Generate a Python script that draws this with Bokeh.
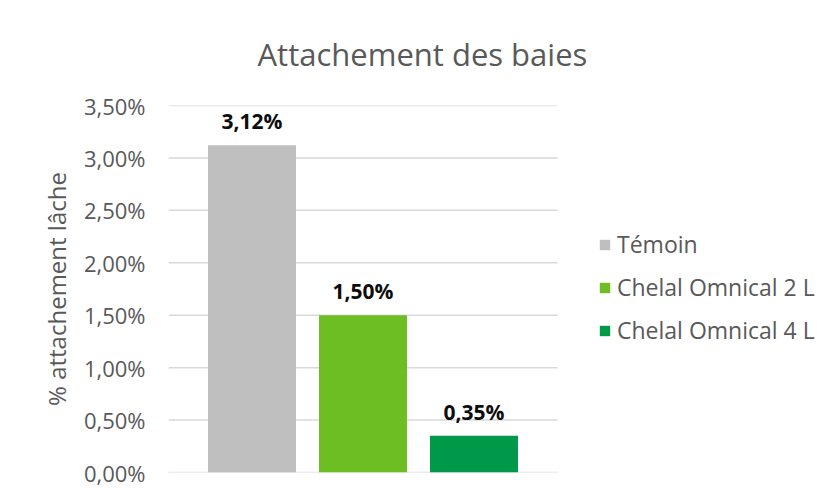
from bokeh.plotting import figure
from bokeh.models import ColumnDataSource, FixedTicker, CustomJSTickFormatter, LabelSet, Legend, LegendItem, Range1d
from bokeh.core.properties import value
from bokeh.embed import file_html
from bokeh.resources import INLINE

categories = ["Témoin", "Chelal Omnical 2 L", "Chelal Omnical 4 L"]
values = [3.12, 1.50, 0.35]
colors = ["#BFBFBF", "#6CBE23", "#00994A"]
y_ticks = [0.0, 0.5, 1.0, 1.5, 2.0, 2.5, 3.0, 3.5]

labels = [f"{v:.2f}".replace(".", ",") + "%" for v in values]
xpos = list(range(len(categories)))
src = ColumnDataSource(dict(x=xpos, cat=categories, val=values, col=colors, lab=labels))

FONT = "Open Sans"
W, H = 819, 487
LEFT, RIGHT, TOP, BOTTOM = 168, 4, 105, 15
px_per_bar = 111.0          # pixel pitch between bar centres
half_span = 389 / 2 / px_per_bar   # half-width of gridded area in bar units
mid = (len(categories) - 1) / 2
x_start = mid - half_span
x_end = x_start + (W - LEFT - RIGHT) / px_per_bar

p = figure(x_range=Range1d(x_start, x_end), y_range=Range1d(0, 3.5), width=W, height=H,
           output_backend="svg", toolbar_location=None,
           min_border_left=LEFT, min_border_right=RIGHT, min_border_top=TOP, min_border_bottom=BOTTOM)
p.outline_line_color = None
p.title.text = "Attachement des baies"
p.title.text_font = FONT
p.title.text_font_size = "31px"
p.title.text_font_style = "normal"
p.title.text_color = "#595959"
p.title.align = "left"
p.title.offset = 89
p.title.standoff = 61

# horizontal gridlines spanning only the plotted area
n = len(y_ticks)
p.segment(x0=[mid - half_span] * n, x1=[mid + half_span] * n,
          y0=y_ticks, y1=y_ticks, line_color="#D9D9D9", line_width=1.5)

r = p.vbar(x="x", top="val", width=88 / px_per_bar, fill_color="col", line_color=None, source=src)

p.xaxis.visible = False
p.xgrid.grid_line_color = None
p.ygrid.grid_line_color = None
p.yaxis.ticker = FixedTicker(ticks=y_ticks)
p.yaxis.formatter = CustomJSTickFormatter(code="return tick.toFixed(2).replace('.', ',') + '%';")
p.yaxis.axis_line_color = None
p.yaxis.major_tick_line_color = None
p.yaxis.minor_tick_line_color = None
p.yaxis.major_label_standoff = 17
p.yaxis.major_label_text_font = FONT
p.yaxis.major_label_text_font_size = "22px"
p.yaxis.major_label_text_color = "#595959"
p.yaxis.axis_label = "% attachement lâche"
p.yaxis.axis_label_text_font = FONT
p.yaxis.axis_label_text_font_size = "24px"
p.yaxis.axis_label_text_font_style = "normal"
p.yaxis.axis_label_text_color = "#595959"
p.yaxis.axis_label_standoff = 8

lbl = LabelSet(x="x", y="val", text="lab", source=src, y_offset=16,
               text_align="center", text_baseline="alphabetic",
               text_font=value(FONT), text_font_size=value("21px"), text_font_style="bold",
               text_color="#0D0D0D")
p.add_layout(lbl)

items = [LegendItem(label=c, renderers=[r], index=i) for i, c in enumerate(categories)]
legend = Legend(items=items, location=(430, 126), orientation="vertical",
                glyph_width=13, glyph_height=13, label_standoff=6, spacing=11,
                padding=0, margin=0, border_line_color=None, background_fill_alpha=0,
                label_text_font=FONT, label_text_font_size="23px", label_text_color="#595959")
p.add_layout(legend, "center")

open("out.html", "w").write(file_html(p, INLINE))
